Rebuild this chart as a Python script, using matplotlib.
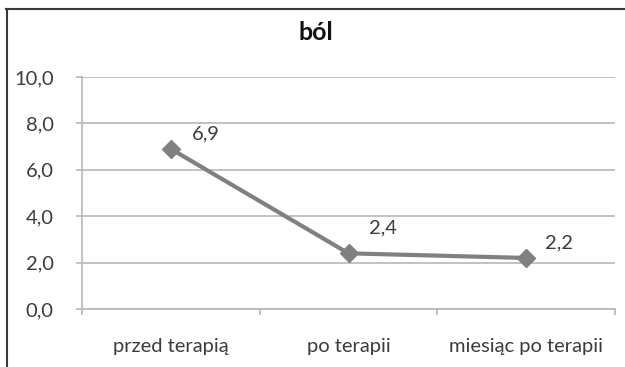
import matplotlib
matplotlib.use("Agg")
import matplotlib.pyplot as plt
from matplotlib.lines import Line2D

categories = ["przed terapią", "po terapii", "miesiąc po terapii"]
values = [6.9, 2.4, 2.2]
value_labels = ["6,9", "2,4", "2,2"]
yticks = [0, 2, 4, 6, 8, 10]
ytick_labels = ["0,0", "2,0", "4,0", "6,0", "8,0", "10,0"]
title = "ból"

W, H = 625, 367
plt.rcParams["font.family"] = ["Lato", "DejaVu Sans"]
fig = plt.figure(figsize=(W / 100, H / 100), dpi=100)
fig.patch.set_facecolor("white")

# plot area in pixel coordinates
left, right, top, bottom = 82, 615, 77, 309
ax = fig.add_axes([left / W, 1 - bottom / H, (right - left) / W, (bottom - top) / H])

text_color = "#3c3c3c"
grid_color = "#b8b8b8"
line_color = "#808080"
fs = 14.5

x = list(range(len(categories)))
ax.plot(x, values, color=line_color, lw=3, marker="D", ms=9,
        mfc=line_color, mec=line_color, solid_capstyle="round", zorder=3)

offsets = [(21, 15), (21, 25), (19, 15)]
for xi, v, lab, off in zip(x, values, value_labels, offsets):
    ax.annotate(lab, (xi, v), xytext=off, textcoords="offset pixels",
                ha="left", va="center", fontsize=fs, color=text_color)

ax.set_xlim(-0.5, len(categories) - 0.5)
ax.set_ylim(0, 10)
ax.set_yticks(yticks)
ax.set_yticklabels(ytick_labels)
ax.set_xticks(x)
ax.set_xticklabels(categories)
ax.set_xticks([i - 0.5 for i in range(len(categories) + 1)], minor=True)

ax.grid(axis="y", color=grid_color, lw=1.2)
ax.set_axisbelow(True)
for side in ["top", "right"]:
    ax.spines[side].set_visible(False)
for side in ["left", "bottom"]:
    ax.spines[side].set_color(grid_color)
    ax.spines[side].set_linewidth(1.2)

ax.tick_params(axis="x", which="major", length=0, pad=21, labelsize=fs, labelcolor=text_color)
ax.tick_params(axis="x", which="minor", length=4.5, width=1.2, color=grid_color)
ax.tick_params(axis="y", length=4.5, width=1.2, color=grid_color, pad=16,
               labelsize=fs, labelcolor=text_color)

fig.text(316 / W, 1 - 33 / H, title, ha="center", va="center",
         fontsize=18, fontweight="bold", color="#111111")

# outer chart border (top and left edges)
fig.add_artist(Line2D([6 / W, 1], [1 - 9 / H, 1 - 9 / H], transform=fig.transFigure,
                      color="#3a3a3a", lw=1.5))
fig.add_artist(Line2D([7 / W, 7 / W], [1 - 9 / H, 0], transform=fig.transFigure,
                      color="#3a3a3a", lw=1.5))

fig.savefig("out.png", dpi=100, facecolor="white")
